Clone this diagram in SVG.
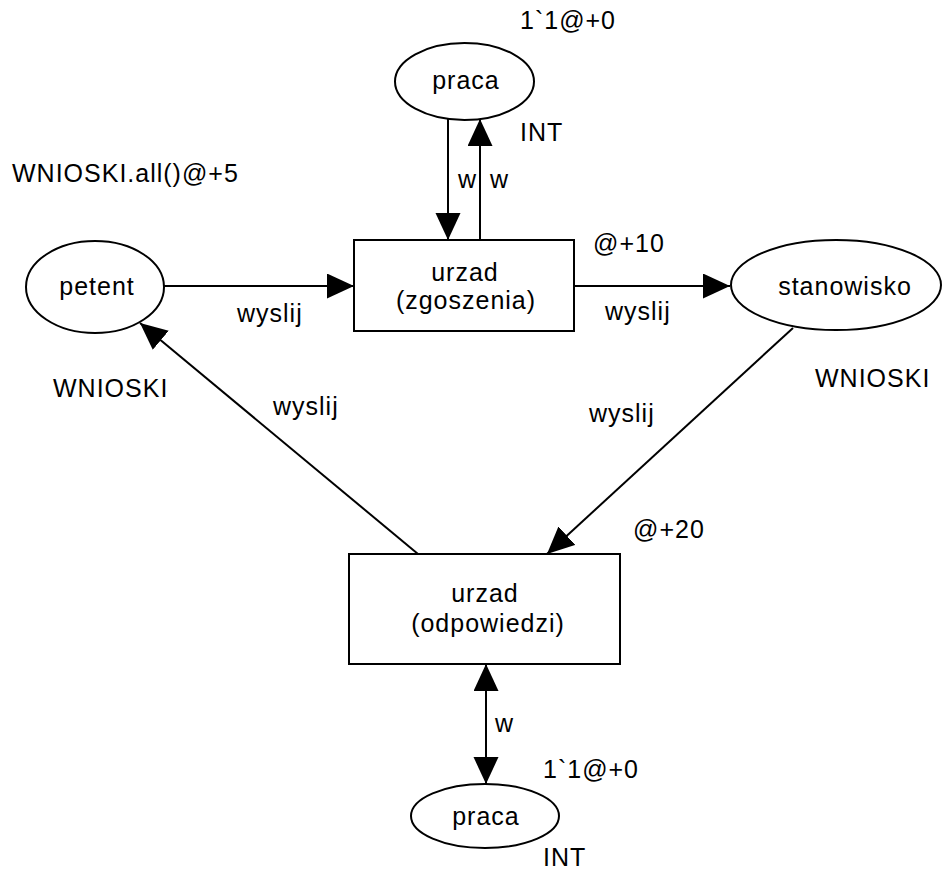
<svg xmlns="http://www.w3.org/2000/svg" width="942" height="871" viewBox="0 0 942 871">
<defs>
<marker id="arr" markerUnits="userSpaceOnUse" markerWidth="28" markerHeight="26" refX="27" refY="12.5" orient="auto-start-reverse">
<path d="M0,0 L27,12.5 L0,25 z" fill="#000"/>
</marker>
</defs>
<style>
.n{fill:#fff;stroke:#000;stroke-width:2}
.e{fill:none;stroke:#000;stroke-width:2;marker-end:url(#arr)}
text{font-family:"Liberation Sans",Arial,sans-serif;font-size:25px;letter-spacing:1px;fill:#000}
.c{text-anchor:middle}
</style>
<rect width="942" height="871" fill="#fff"/>
<g id="connectors">
<line class="e" x1="448" y1="119" x2="448" y2="240"/>
<line class="e" x1="480" y1="240" x2="480" y2="119"/>
<line class="e" x1="164" y1="286" x2="354" y2="286"/>
<line class="e" x1="574" y1="286" x2="730" y2="286"/>
<line class="e" x1="793" y1="328" x2="547" y2="554"/>
<line class="e" x1="418" y1="554" x2="140" y2="323"/>
<line class="e" x1="486" y1="664" x2="486" y2="784" style="marker-start:url(#arr)"/>
</g>
<g id="labels">
<text x="458" y="188">w</text>
<text x="490" y="188">w</text>
<text x="237" y="322">wyslij</text>
<text x="605" y="320">wyslij</text>
<text x="273" y="415">wyslij</text>
<text x="589" y="422">wyslij</text>
<text x="495" y="732">w</text>
</g>
<g id="praca_top">
<ellipse class="n" cx="464.5" cy="81.5" rx="69.5" ry="38.5"/>
<text class="c" x="466" y="89">praca</text>
<text x="520" y="29">1`1@+0</text>
<text x="520" y="141">INT</text>
</g>
<g id="petent">
<ellipse class="n" cx="95" cy="287" rx="69" ry="46"/>
<text class="c" x="97" y="295">petent</text>
<text x="12" y="182">WNIOSKI.all()@+5</text>
<text x="53" y="397">WNIOSKI</text>
</g>
<g id="urzad_zgoszenia">
<rect class="n" x="354" y="240" width="220" height="91"/>
<text class="c" x="465" y="281">urzad</text>
<text class="c" x="466" y="309">(zgoszenia)</text>
<text x="593" y="252">@+10</text>
</g>
<g id="stanowisko">
<ellipse class="n" cx="836" cy="285" rx="105" ry="45"/>
<text class="c" x="845" y="295">stanowisko</text>
<text x="815" y="387">WNIOSKI</text>
</g>
<g id="urzad_odpowiedzi">
<rect class="n" x="349" y="554" width="271" height="110"/>
<text class="c" x="485" y="602">urzad</text>
<text class="c" x="488" y="632">(odpowiedzi)</text>
<text x="633" y="538">@+20</text>
</g>
<g id="praca_bottom">
<ellipse class="n" cx="485" cy="816" rx="74" ry="32"/>
<text class="c" x="486" y="825">praca</text>
<text x="543" y="778">1`1@+0</text>
<text x="543" y="866">INT</text>
</g>
</svg>
